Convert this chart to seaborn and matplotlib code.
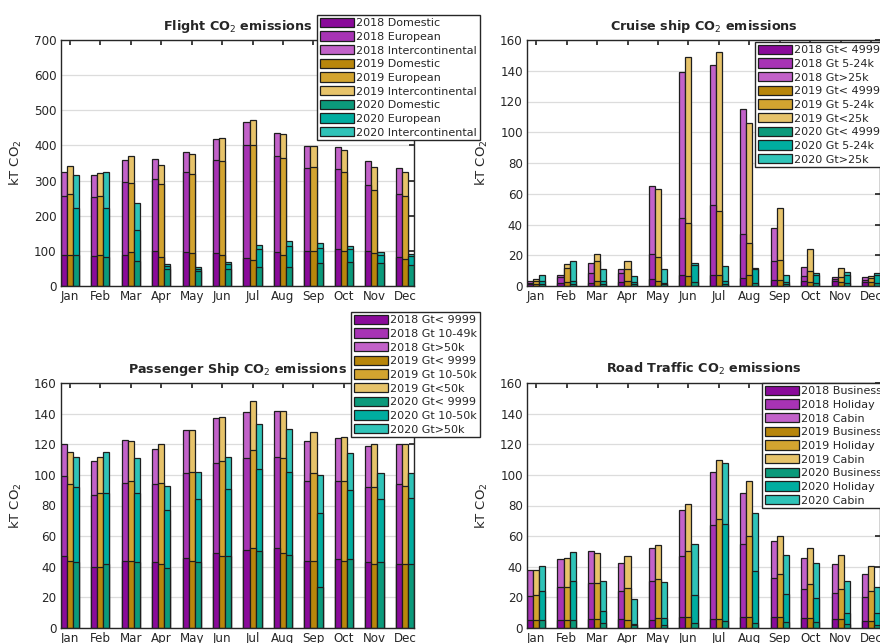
import matplotlib
matplotlib.use('Agg')
import matplotlib.pyplot as plt
from matplotlib.patches import Patch
import seaborn as sns
import pandas as pd
import numpy as np

MONTHS = ['Jan', 'Feb', 'Mar', 'Apr', 'May', 'Jun', 'Jul', 'Aug', 'Sep', 'Oct', 'Nov', 'Dec']
YEARS = ['2018', '2019', '2020']

# colours per year: lowest, middle, top segment of the stack
COLORS = {
    '2018': ['#8a0a9a', '#a733b4', '#c262c9'],
    '2019': ['#b8860b', '#d3a430', '#e7c36a'],
    '2020': ['#0b9a7b', '#00ada0', '#2fc3b8'],
}

# stacked bar tops (cumulative), rows = 1st, 1st+2nd, 1st+2nd+3rd category
FLIGHT_2018 = [
    [87, 85, 89, 99, 97, 93, 80, 97, 99, 104, 99, 82],
    [255, 252, 295, 304, 324, 358, 401, 370, 337, 333, 287, 262],
    [325, 317, 359, 360, 380, 417, 467, 435, 397, 395, 357, 337],
]
FLIGHT_2019 = [
    [89, 87, 97, 82, 93, 89, 74, 89, 99, 99, 93, 78],
    [262, 255, 292, 290, 320, 355, 402, 365, 340, 325, 274, 255],
    [342, 322, 370, 345, 377, 420, 472, 433, 398, 387, 340, 325],
]
FLIGHT_2020 = [
    [87, 82, 72, 49, 42, 47, 55, 55, 66, 68, 66, 59],
    [222, 222, 159, 57, 49, 64, 104, 114, 108, 106, 87, 85],
    [317, 325, 235, 63, 55, 68, 118, 127, 121, 114, 97, 91],
]
FLIGHT_LABELS = ['Domestic', 'European', 'Intercontinental']

CRUISE_2018 = [
    [1, 2, 2.2, 2.6, 4.8, 7, 7.4, 5.2, 3.9, 3, 3, 2.6],
    [2, 6, 8.2, 8.7, 21, 44, 53, 34, 16.5, 6.5, 4.3, 3.9],
    [3, 7.4, 14.8, 10.8, 65, 139, 144, 115, 38, 12.6, 5.6, 5.6],
]
CRUISE_2019 = [
    [1, 2.6, 3, 3, 3, 6.5, 7, 7, 3.9, 2.6, 2.6, 2.6],
    [3, 11.7, 16, 11.3, 19, 41, 49, 28, 17, 9.5, 5.6, 5.2],
    [4.3, 14.3, 20.8, 16.5, 63, 149, 152, 106, 51, 23.9, 11.7, 6.5],
]
CRUISE_2020 = [
    [1, 1.5, 1.5, 1, 1.5, 2.6, 1.5, 1.7, 1.5, 1.7, 1.7, 1.7],
    [3, 3.5, 3.5, 2.6, 2, 13.4, 3, 10.8, 2.6, 7, 7, 7],
    [7.4, 16.5, 11.3, 6.5, 11.3, 14.8, 13, 12, 7.4, 8.2, 9.1, 8.7],
]
CRUISE_LABELS = {
    '2018': ['Gt< 4999', 'Gt 5-24k', 'Gt>25k'],
    '2019': ['Gt< 4999', 'Gt 5-24k', 'Gt<25k'],
    '2020': ['Gt< 4999', 'Gt 5-24k', 'Gt>25k'],
}

PASSENGER_2018 = [
    [47, 40, 44, 43, 46, 49, 51, 52, 44, 45, 43, 42],
    [99, 87, 95, 94, 101, 108, 111, 112, 96, 96, 92, 94],
    [120, 109, 123, 117, 129, 137, 141, 142, 122, 124, 119, 120],
]
PASSENGER_2019 = [
    [44, 40, 44, 42, 44, 47, 52, 49, 44, 44, 42, 42],
    [94, 88, 96, 95, 102, 109, 116, 111, 101, 96, 92, 93],
    [115, 112, 122, 120, 129, 138, 148, 142, 128, 125, 120, 120],
]
PASSENGER_2020 = [
    [43, 42, 43, 39, 43, 47, 50, 48, 27, 45, 43, 42],
    [92, 88, 88, 77, 84, 91, 104, 102, 75, 90, 84, 85],
    [112, 115, 111, 93, 102, 112, 133, 130, 100, 114, 101, 101],
]
PASSENGER_LABELS = {
    '2018': ['Gt< 9999', 'Gt 10-49k', 'Gt>50k'],
    '2019': ['Gt< 9999', 'Gt 10-50k', 'Gt<50k'],
    '2020': ['Gt< 9999', 'Gt 10-50k', 'Gt>50k'],
}

ROAD_2018 = [
    [5.2, 5.2, 5.7, 5.7, 5.2, 7, 5.7, 7, 7, 6.5, 6, 4.3],
    [20.9, 26.5, 29.6, 23.9, 30.4, 47, 67, 55, 32.6, 25.2, 23, 20.4],
    [37.8, 45, 50, 42.6, 52, 77, 102, 88, 57, 45.5, 42, 35.2],
]
ROAD_2019 = [
    [5.2, 5.2, 6, 5.2, 6.5, 7, 5.7, 7, 7, 6.5, 6, 4.3],
    [21.7, 26.5, 29.5, 26, 32.2, 50, 71, 60, 35.2, 28.7, 25.6, 23.9],
    [38, 46, 49, 47, 54, 81, 110, 96, 60, 52, 48, 40.4],
]
ROAD_2020 = [
    [5.2, 5.2, 3.5, 1.7, 1.7, 3.5, 4.3, 3.5, 3.9, 3.9, 2.6, 2],
    [23.9, 30.4, 11.3, 2.6, 6.5, 21.3, 68, 37.4, 22.2, 19.6, 10, 10],
    [40.4, 49.5, 30.4, 19.1, 30, 55, 108, 75, 48, 42.2, 30.9, 26.5],
]
ROAD_LABELS = ['Business', 'Holiday', 'Cabin']

EDGE = '#1e1e1e'


def draw_panel(fig, rect, stacks, title, ymax, ystep, labels, legend_xy):
    ax = fig.add_axes(rect)
    # tallest layer first, lower layers drawn on top give the stacked look
    for level in (2, 1, 0):
        df = pd.DataFrame({
            'month': MONTHS * 3,
            'year': np.repeat(YEARS, 12),
            'value': np.concatenate([stacks[y][level] for y in YEARS]),
        })
        sns.barplot(data=df, x='month', y='value', hue='year', order=MONTHS,
                    hue_order=YEARS, palette=[COLORS[y][level] for y in YEARS],
                    width=0.6, dodge=True, saturation=1, errorbar=None,
                    legend=False, edgecolor=EDGE, linewidth=0.9, ax=ax)
    ax.set_xlim(-0.3, 11.3)
    ax.set_ylim(0, ymax)
    ax.set_yticks(np.arange(0, ymax + 1, ystep))
    ax.set_xticks(range(12))
    ax.set_xticklabels(MONTHS)
    ax.set_xlabel('')
    ax.set_ylabel('kT CO$_2$', fontsize=9.5, labelpad=7)
    ax.set_title(title, fontsize=9.2, fontweight='bold', pad=7)
    ax.yaxis.grid(True, color='#dcdcdc', linewidth=0.9)
    ax.set_axisbelow(True)
    ax.tick_params(direction='in', top=True, right=True, length=3.5,
                   labelsize=8.6, colors='#262626', pad=3)
    for sp in ax.spines.values():
        sp.set_color('#262626')
        sp.set_linewidth(1.0)

    handles = []
    for y in YEARS:
        names = labels[y] if isinstance(labels, dict) else labels
        for k in range(3):
            handles.append(Patch(facecolor=COLORS[y][k], edgecolor=EDGE,
                                 linewidth=0.9, label=f'{y} {names[k]}'))
    leg = ax.legend(handles=handles, loc='upper left',
                    bbox_to_anchor=(legend_xy[0] / 880, 1 - legend_xy[1] / 643),
                    bbox_transform=fig.transFigure, borderaxespad=0,
                    fontsize=8, fancybox=False, framealpha=1, edgecolor='#262626',
                    handlelength=3.1, handleheight=0.9, labelspacing=0.29,
                    borderpad=0.25, handletextpad=0.2)
    leg.get_frame().set_linewidth(1.0)
    leg.set_zorder(10)
    return ax


sns.set_theme(style='white')
plt.rcParams['font.family'] = ['DejaVu Sans']

fig = plt.figure(figsize=(8.8, 6.43), dpi=100)
W, H = 880, 643
aw = 353.3

draw_panel(fig, [60.7 / W, (H - 286) / H, aw / W, 246 / H],
           {'2018': FLIGHT_2018, '2019': FLIGHT_2019, '2020': FLIGHT_2020},
           'Flight CO$_2$ emissions', 700, 100, FLIGHT_LABELS, (317, 15))
draw_panel(fig, [527 / W, (H - 286) / H, aw / W, 246 / H],
           {'2018': CRUISE_2018, '2019': CRUISE_2019, '2020': CRUISE_2020},
           'Cruise ship CO$_2$ emissions', 160, 20, CRUISE_LABELS, (755, 42))
draw_panel(fig, [60.7 / W, (H - 628) / H, aw / W, 245 / H],
           {'2018': PASSENGER_2018, '2019': PASSENGER_2019, '2020': PASSENGER_2020},
           'Passenger Ship CO$_2$ emissions', 160, 20, PASSENGER_LABELS, (351, 312))
draw_panel(fig, [527 / W, (H - 628) / H, aw / W, 245 / H],
           {'2018': ROAD_2018, '2019': ROAD_2019, '2020': ROAD_2020},
           'Road Traffic CO$_2$ emissions', 160, 20, ROAD_LABELS, (762, 383))

fig.savefig('out.png', dpi=100)
